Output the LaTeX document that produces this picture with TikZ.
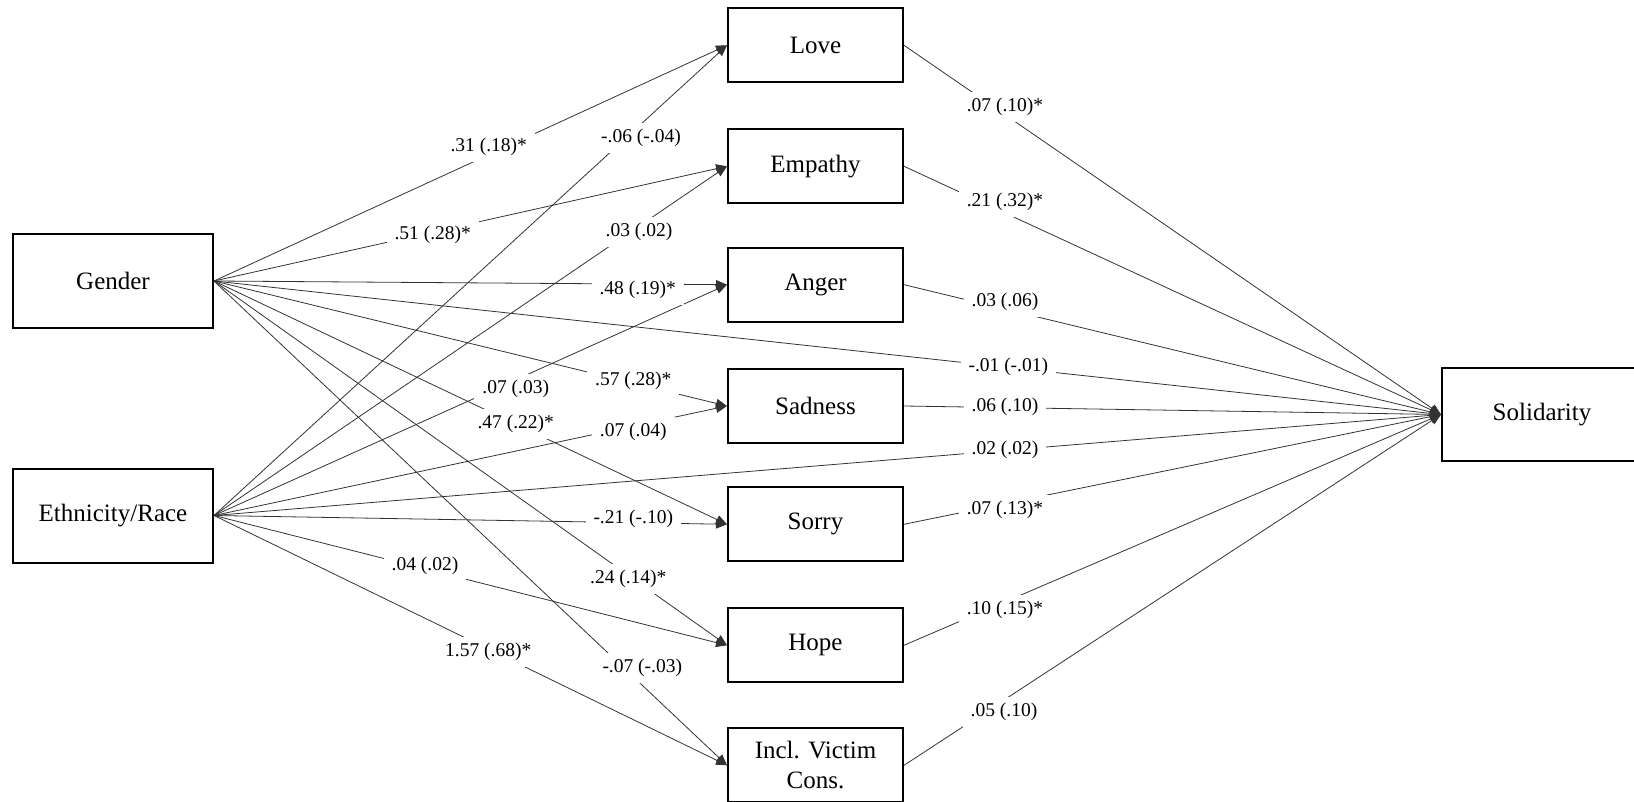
\documentclass[tikz,border=0pt]{standalone}
\usepackage{fontspec}
\setmainfont{Liberation Serif}
\usetikzlibrary{arrows.meta}
\begin{document}
\begin{tikzpicture}[x=0.5pt,y=-0.5pt,
  box/.style={draw=black,line width=1pt,fill=white,minimum width=100pt,minimum height=47pt,inner sep=0pt,font=\fontsize{12.5}{15}\selectfont,align=center},
  medbox/.style={box,minimum width=87.5pt,minimum height=37pt},
  lab/.style={fill=white,inner xsep=4pt,inner ysep=3pt,font=\fontsize{9.75}{11}\selectfont},
  conn/.style={draw=black!80,line width=0.4pt,-{Triangle[length=5.5pt,width=4.5pt]}}]
\useasboundingbox (0,0) rectangle (1634,802);
% boxes
\node[box] (gen) at (113,281) {Gender};
\node[box] (eth) at (113,515.5) {Ethnicity/Race};
\node[medbox] (love) at (815.5,45.3) {Love};
\node[medbox] (emp) at (815.5,166.3) {Empathy};
\node[medbox] (ang) at (815.5,284.7) {Anger};
\node[medbox] (sad) at (815.5,406) {Sadness};
\node[medbox] (sor) at (815.5,524.3) {Sorry};
\node[medbox] (hope) at (815.5,645.3) {Hope};
\node[medbox] (incl) at (815.5,765.3) {Incl. Victim\\Cons.};
\node[box,minimum height=46.5pt] (sol) at (1542,414.5) {Solidarity};
% connectors from Gender
\draw[conn] (gen.east) -- (love.west);
\draw[conn] (gen.east) -- (emp.west);
\draw[conn] (gen.east) -- (ang.west);
\draw[conn] (gen.east) -- (sad.west);
\draw[conn] (gen.east) -- (sor.west);
\draw[conn] (gen.east) -- (hope.west);
\draw[conn] (gen.east) -- (incl.west);
\draw[conn] (gen.east) -- (sol.west);
% connectors from Ethnicity
\draw[conn] (eth.east) -- (love.west);
\draw[conn] (eth.east) -- (emp.west);
\draw[conn] (eth.east) -- (ang.west);
\draw[conn] (eth.east) -- (sad.west);
\draw[conn] (eth.east) -- (sor.west);
\draw[conn] (eth.east) -- (hope.west);
\draw[conn] (eth.east) -- (incl.west);
\draw[conn] (eth.east) -- (sol.west);
% mediators to Solidarity
\draw[conn] (love.east) -- (sol.west);
\draw[conn] (emp.east) -- (sol.west);
\draw[conn] (ang.east) -- (sol.west);
\draw[conn] (sad.east) -- (sol.west);
\draw[conn] (sor.east) -- (sol.west);
\draw[conn] (hope.east) -- (sol.west);
\draw[conn] (incl.east) -- (sol.west);
% labels
\node[lab] (l1) at (488.7,146.7) {.31 (.18)*};
\node[lab] (l2) at (641,138.3) {-.06 (-.04)};
\node[lab] (l3) at (432.7,235) {.51 (.28)*};
\node[lab] (l4) at (639,232.3) {.03 (.02)};
\node[lab] (l5) at (637.7,290) {.48 (.19)*};
\node[lab] (l6) at (515.7,389) {.07 (.03)};
\node[lab] (l7) at (633.3,380.7) {.57 (.28)*};
\node[lab] (l8) at (515.7,424.3) {.47 (.22)*};
\node[lab] (l9) at (633.3,431.7) {.07 (.04)};
\node[lab] (l10) at (633.3,519) {-.21 (-.10)};
\node[lab] (l11) at (425,566) {.04 (.02)};
\node[lab] (l12) at (628.3,579) {.24 (.14)*};
\node[lab] (l13) at (488.3,651.7) {1.57 (.68)*};
\node[lab] (l14) at (642.3,668.3) {-.07 (-.03)};
\node[lab] (r1) at (1005,107) {.07 (.10)*};
\node[lab] (r2) at (1005,202) {.21 (.32)*};
\node[lab] (r3) at (1005,302) {.03 (.06)};
\node[lab] (r4) at (1008.3,366.7) {-.01 (-.01)};
\node[lab] (r5) at (1005,406.7) {.06 (.10)};
\node[lab] (r6) at (1005,450) {.02 (.02)};
\node[lab] (r7) at (1005,510) {.07 (.13)*};
\node[lab] (r8) at (1005,610) {.10 (.15)*};
\node[lab] (r9) at (1004,711.7) {.05 (.10)};
\end{tikzpicture}
\end{document}
